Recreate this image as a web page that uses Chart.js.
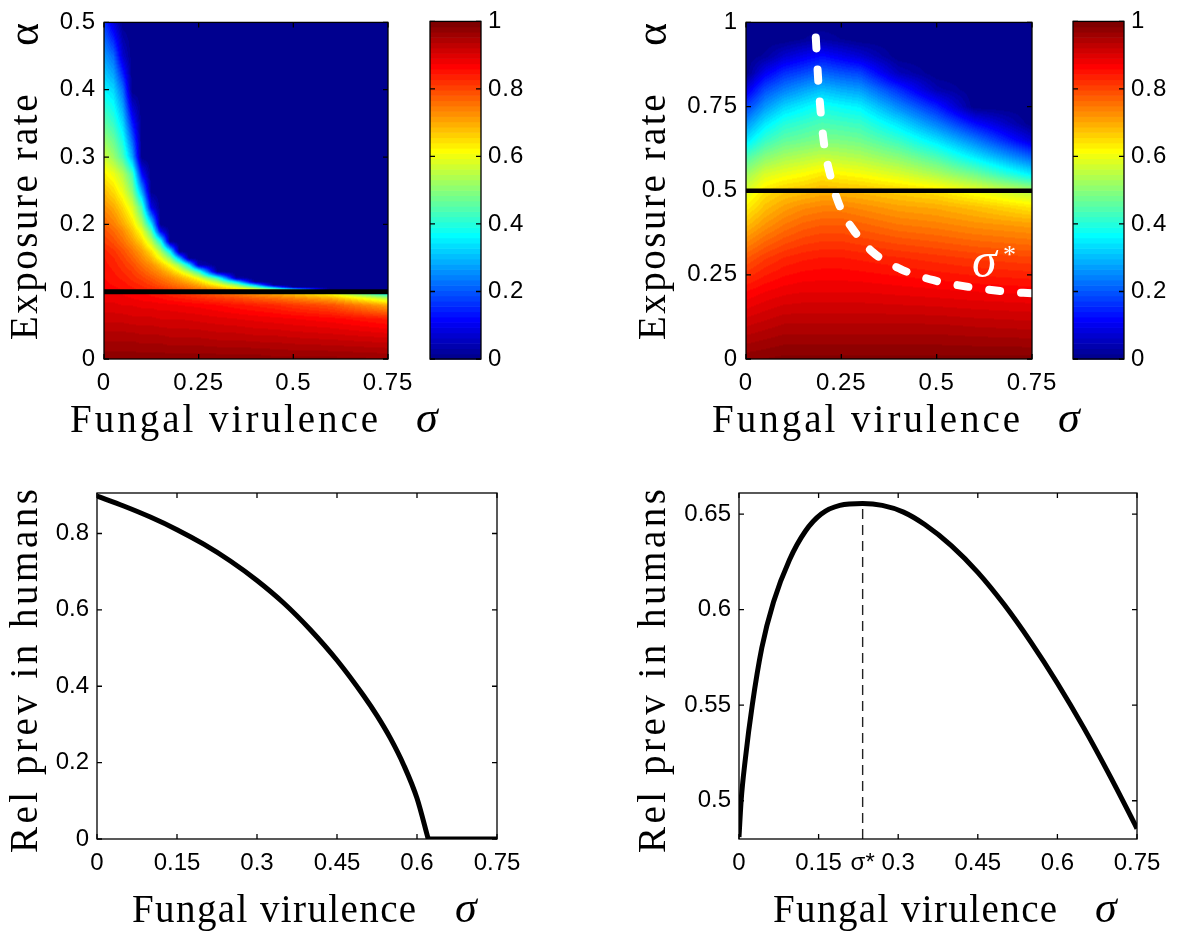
<!DOCTYPE html>
<html>
<head>
<meta charset="utf-8">
<script src="https://cdn.jsdelivr.net/npm/chart.js@4.4.1/dist/chart.umd.min.js"></script>
<style>
  html, body { margin: 0; background: #fff; }
  #fig { position: relative; width: 1200px; height: 934px; }
  #fig canvas { position: absolute; left: 0; top: 0; }
</style>
</head>
<body>
<div id="fig">
  <canvas id="hmLeft" width="1200" height="934"></canvas>
  <canvas id="cbLeft" width="1200" height="934"></canvas>
  <canvas id="hmRight" width="1200" height="934"></canvas>
  <canvas id="cbRight" width="1200" height="934"></canvas>
  <canvas id="prevLeft" width="1200" height="934"></canvas>
  <canvas id="prevRight" width="1200" height="934"></canvas>
</div>
<script>
// ---------- data ----------

// top-left heatmap: value on a (sigma, alpha) grid, rows go up in alpha
const leftSigma = [0, 0.025, 0.05, 0.075, 0.1, 0.125, 0.15, 0.175, 0.2, 0.225, 0.25, 0.3, 0.35, 0.4, 0.45, 0.5, 0.6, 0.75];
const leftAlpha = [0, 0.03, 0.06, 0.08, 0.09, 0.1, 0.103, 0.107, 0.11, 0.115, 0.12, 0.125, 0.13, 0.14, 0.15, 0.16, 0.175, 0.19, 0.2, 0.225, 0.25, 0.275, 0.3, 0.35, 0.4, 0.45, 0.5];
const leftGrid = [
  [.98, .98, .98, .98, .98, .98, .98, .98, .98, .98, .98, .98, .98, .98, .975, .975, .975, .97],
  [.95, .95, .95, .95, .945, .945, .945, .94, .94, .94, .94, .935, .935, .93, .93, .925, .92, .91],
  [.915, .915, .915, .91, .91, .91, .905, .905, .905, .903, .9, .895, .89, .885, .88, .875, .865, .84],
  [.895, .895, .89, .89, .885, .885, .88, .88, .875, .872, .87, .86, .85, .84, .83, .815, .79, .7],
  [.885, .885, .88, .875, .87, .865, .86, .85, .845, .838, .83, .815, .8, .78, .765, .745, .7, .55],
  [.875, .875, .87, .865, .86, .85, .84, .83, .815, .803, .79, .76, .73, .7, .67, .64, .57, .3],
  [.87, .865, .859, .849, .841, .833, .82, .808, .793, .778, .763, .731, .687, .618, .531, .4, 0, 0],
  [.868, .861, .854, .843, .832, .818, .804, .785, .766, .748, .727, .668, .573, .451, .226, 0, 0, 0],
  [.866, .858, .85, .839, .825, .81, .79, .77, .752, .731, .701, .62, .511, .286, 0, 0, 0, 0],
  [.863, .854, .846, .83, .817, .796, .773, .751, .725, .693, .66, .535, .319, 0, 0, 0, 0, 0],
  [.86, .851, .839, .823, .804, .783, .757, .734, .698, .662, .602, .43, .043, 0, 0, 0, 0, 0],
  [.858, .848, .833, .815, .794, .767, .74, .704, .665, .6, .515, .206, 0, 0, 0, 0, 0, 0],
  [.855, .844, .828, .811, .782, .752, .722, .68, .616, .534, .419, 0, 0, 0, 0, 0, 0, 0],
  [.85, .837, .817, .792, .758, .725, .676, .604, .51, .34, .043, 0, 0, 0, 0, 0, 0, 0],
  [.845, .83, .804, .773, .733, .684, .605, .499, .279, 0, 0, 0, 0, 0, 0, 0, 0, 0],
  [.835, .818, .789, .752, .71, .647, .534, .359, 0, 0, 0, 0, 0, 0, 0, 0, 0, 0],
  [.81, .79, .757, .713, .656, .553, .381, 0, 0, 0, 0, 0, 0, 0, 0, 0, 0, 0],
  [.79, .766, .731, .676, .6, .45, .103, 0, 0, 0, 0, 0, 0, 0, 0, 0, 0, 0],
  [.77, .745, .702, .647, .547, .354, 0, 0, 0, 0, 0, 0, 0, 0, 0, 0, 0, 0],
  [.73, .702, .653, .584, .438, .095, 0, 0, 0, 0, 0, 0, 0, 0, 0, 0, 0, 0],
  [.68, .649, .594, .498, .272, 0, 0, 0, 0, 0, 0, 0, 0, 0, 0, 0, 0, 0],
  [.63, .6, .542, .435, .12, 0, 0, 0, 0, 0, 0, 0, 0, 0, 0, 0, 0, 0],
  [.57, .52, .44, .28, 0, 0, 0, 0, 0, 0, 0, 0, 0, 0, 0, 0, 0, 0],
  [.46, .42, .33, .14, 0, 0, 0, 0, 0, 0, 0, 0, 0, 0, 0, 0, 0, 0],
  [.36, .33, .22, 0, 0, 0, 0, 0, 0, 0, 0, 0, 0, 0, 0, 0, 0, 0],
  [.27, .22, .07, 0, 0, 0, 0, 0, 0, 0, 0, 0, 0, 0, 0, 0, 0, 0],
  [.17, .08, 0, 0, 0, 0, 0, 0, 0, 0, 0, 0, 0, 0, 0, 0, 0, 0]
];
const leftCutoff = 0.1;

// top-right heatmap
const rightSigma = [0, 0.05, 0.1, 0.15, 0.2, 0.25, 0.3, 0.4, 0.5, 0.6, 0.75];
const rightAlpha = [0, 0.1, 0.2, 0.3, 0.4, 0.45, 0.5, 0.55, 0.6, 0.65, 0.7, 0.75, 0.8, 0.85, 0.9, 0.95, 1];
const rightGrid = [
  [.98, .985, .99, .99, .99, .99, .99, .99, .99, .99, .99],
  [.92, .93, .94, .94, .94, .94, .94, .94, .94, .935, .93],
  [.86, .875, .885, .89, .89, .89, .89, .885, .88, .875, .87],
  [.78, .81, .83, .84, .845, .845, .84, .83, .82, .81, .8],
  [.68, .72, .75, .77, .78, .78, .77, .75, .74, .725, .71],
  [.63, .68, .71, .73, .74, .74, .73, .71, .7, .68, .64],
  [.58, .64, .665, .675, .69, .685, .68, .66, .64, .6, .54],
  [.52, .58, .6, .615, .635, .62, .61, .58, .535, .475, .35],
  [.44, .5, .53, .545, .56, .55, .54, .5, .44, .35, .21],
  [.34, .42, .46, .475, .49, .485, .475, .42, .34, .24, .075],
  [.26, .345, .4, .42, .44, .43, .42, .34, .24, .125, 0],
  [.175, .265, .325, .355, .385, .37, .355, .25, .145, 0, 0],
  [.09, .19, .24, .275, .305, .285, .27, .16, .04, 0, 0],
  [0, .105, .16, .185, .215, .195, .18, .05, 0, 0, 0],
  [0, .02, .07, .1, .125, .1, .075, 0, 0, 0, 0],
  [0, 0, 0, .015, .03, .015, 0, 0, 0, 0, 0],
  [0, 0, 0, 0, 0, 0, 0, 0, 0, 0, 0]
];
const rightCutoff = 0.5;
// optimal virulence sigma* against alpha (white dashed curve)
const optSigma = [0.183, 0.19, 0.203, 0.225, 0.247, 0.282, 0.334, 0.404, 0.492, 0.597, 0.684, 0.75];
const optAlpha = [0.955, 0.818, 0.654, 0.528, 0.451, 0.383, 0.316, 0.268, 0.234, 0.212, 0.2, 0.195];

// bottom-left: relative prevalence in humans (falls to zero, then stays there)
const lowSigma = [0, 0.05, 0.1, 0.15, 0.2, 0.25, 0.3, 0.35, 0.4, 0.45, 0.5, 0.525, 0.55, 0.575, 0.6, 0.621];
const lowPrev = [0.898, 0.872, 0.843, 0.81, 0.772, 0.728, 0.677, 0.618, 0.548, 0.468, 0.375, 0.323, 0.264, 0.194, 0.1065, 0];
const lowZeroSigma = [0.621, 0.75];
const lowZeroPrev = [0, 0];

// bottom-right
const highSigma = [0, 0.004, 0.012, 0.025, 0.043, 0.065, 0.095, 0.125, 0.155, 0.19, 0.233, 0.27, 0.31, 0.35, 0.4, 0.45, 0.5, 0.55, 0.6, 0.65, 0.7, 0.75];
const highPrev = [0.481, 0.5, 0.522, 0.55, 0.58, 0.604, 0.626, 0.641, 0.65, 0.6545, 0.6555, 0.6545, 0.651, 0.6445, 0.6335, 0.6195, 0.6025, 0.583, 0.5615, 0.538, 0.5125, 0.4855];
const sigmaStar = 0.233;
const peakPrev = 0.6555;

// tick values
const hmXTicks = [0, 0.25, 0.5, 0.75];
const leftYTicks = [0, 0.1, 0.2, 0.3, 0.4, 0.5];
const rightYTicks = [0, 0.25, 0.5, 0.75, 1];
const cbTicks = [0, 0.2, 0.4, 0.6, 0.8, 1];
const lineXTicks = [0, 0.15, 0.3, 0.45, 0.6, 0.75];
const lowYTicks = [0, 0.2, 0.4, 0.6, 0.8];
const highYTicks = [0.5, 0.55, 0.6, 0.65];

// ---------- helpers ----------
const W = 1200, H = 934;
const tickFont = { family: '"Liberation Sans", Arial, sans-serif', size: 24 };
const titleFont = '39px "Liberation Serif", "Times New Roman", serif';
const greekFont = 'italic 44px "Liberation Serif", "Times New Roman", serif';
const fmt = v => String(Math.round(v * 1000) / 1000);

// MATLAB jet, 64 levels
function jetIndex(i) {
  const c = t => Math.max(0, Math.min(1, t));
  return [
    c(Math.min((i - 24) / 16, (72 - i) / 16)) * 255,
    c(Math.min((i - 8) / 16, (56 - i) / 16)) * 255,
    c(Math.min((i + 8) / 16, (40 - i) / 16)) * 255
  ];
}
function jet(v) {
  return jetIndex(Math.max(1, Math.min(64, Math.floor(v * 64) + 1)));
}
function locate(arr, v) {
  let i = 0;
  while (i < arr.length - 2 && v > arr[i + 1]) i++;
  const f = Math.max(0, Math.min(1, (v - arr[i]) / (arr[i + 1] - arr[i])));
  return [i, f];
}

function heatmapPlugin(sig, alp, grid) {
  return {
    id: 'heatmap',
    beforeDatasetsDraw(chart) {
      const { ctx, chartArea: a, scales: { x, y } } = chart;
      const w = Math.round(a.right - a.left), h = Math.round(a.bottom - a.top);
      const off = document.createElement('canvas');
      off.width = w; off.height = h;
      const octx = off.getContext('2d');
      const img = octx.createImageData(w, h);
      for (let py = 0; py < h; py++) {
        const [j, fy] = locate(alp, y.getValueForPixel(a.top + py + 0.5));
        for (let px = 0; px < w; px++) {
          const [i, fx] = locate(sig, x.getValueForPixel(a.left + px + 0.5));
          const lo = grid[j][i] * (1 - fx) + grid[j][i + 1] * fx;
          const hi = grid[j + 1][i] * (1 - fx) + grid[j + 1][i + 1] * fx;
          const col = jet(lo * (1 - fy) + hi * fy);
          const k = (py * w + px) * 4;
          img.data[k] = col[0]; img.data[k + 1] = col[1]; img.data[k + 2] = col[2]; img.data[k + 3] = 255;
        }
      }
      octx.putImageData(img, 0, 0);
      ctx.drawImage(off, a.left, a.top);
    }
  };
}

function colorbarPlugin() {
  return {
    id: 'colorbar',
    beforeDatasetsDraw(chart) {
      const { ctx, chartArea: a, scales: { y } } = chart;
      for (let i = 1; i <= 64; i++) {
        const y0 = y.getPixelForValue((i - 1) / 64), y1 = y.getPixelForValue(i / 64);
        const c = jetIndex(i);
        ctx.fillStyle = `rgb(${c[0]},${c[1]},${c[2]})`;
        ctx.fillRect(a.left, y1, a.right - a.left, y0 - y1 + 0.6);
      }
    }
  };
}

// box round the axes, with ticks pointing inwards on all four sides
function framePlugin(xTicks, yTicks) {
  return {
    id: 'frame',
    afterDatasetsDraw(chart) {
      const { ctx, chartArea: a, scales: { x, y } } = chart;
      const len = 5;
      ctx.save();
      ctx.strokeStyle = '#000';
      ctx.lineWidth = 1.3;
      ctx.beginPath();
      xTicks.forEach(v => {
        const px = x.getPixelForValue(v);
        ctx.moveTo(px, a.bottom); ctx.lineTo(px, a.bottom - len);
        ctx.moveTo(px, a.top); ctx.lineTo(px, a.top + len);
      });
      yTicks.forEach(v => {
        const py = y.getPixelForValue(v);
        ctx.moveTo(a.left, py); ctx.lineTo(a.left + len, py);
        ctx.moveTo(a.right, py); ctx.lineTo(a.right - len, py);
      });
      ctx.stroke();
      ctx.strokeRect(a.left, a.top, a.right - a.left, a.bottom - a.top);
      ctx.restore();
    }
  };
}

// the top row of the figure is a little wider, so its text is spaced out
function spacingPlugin(px) {
  return { id: 'spacing', beforeDraw(chart) { chart.ctx.letterSpacing = px; } };
}

function textPlugin(items) {
  return {
    id: 'texts',
    afterDraw(chart) {
      const ctx = chart.ctx;
      items.forEach(t => {
        ctx.save();
        ctx.font = t.font || titleFont;
        ctx.fillStyle = t.color || '#000';
        ctx.letterSpacing = t.spacing || '0px';
        ctx.textAlign = 'left';
        ctx.textBaseline = 'alphabetic';
        ctx.translate(t.x, t.y);
        if (t.rotate) ctx.rotate(-Math.PI / 2);
        ctx.fillText(t.text, 0, 0);
        ctx.restore();
      });
    }
  };
}

function panelOptions(area, xr, yr) {
  return {
    responsive: false,
    animation: false,
    devicePixelRatio: 1,
    layout: { padding: { left: 0, top: area.top, right: W - area.right, bottom: 0 } },
    plugins: { legend: { display: false }, tooltip: { enabled: false } },
    scales: {
      x: {
        type: 'linear', min: xr.min, max: xr.max,
        grid: { display: false, drawTicks: false }, border: { display: false },
        afterBuildTicks: s => { s.ticks = xr.ticks.map(v => ({ value: v })); },
        afterFit: s => { s.height = H - area.bottom; },
        ticks: { autoSkip: false, maxRotation: 0, padding: 10, color: '#000', font: tickFont, callback: xr.fmt || fmt }
      },
      y: {
        type: 'linear', min: yr.min, max: yr.max,
        grid: { display: false, drawTicks: false }, border: { display: false },
        afterBuildTicks: s => { s.ticks = yr.ticks.map(v => ({ value: v })); },
        afterFit: s => { s.width = area.left; },
        ticks: { autoSkip: false, padding: 8, color: '#000', font: tickFont, callback: fmt }
      }
    }
  };
}

function colorbar(id, area) {
  new Chart(document.getElementById(id), {
    type: 'scatter',
    data: { datasets: [] },
    options: {
      responsive: false, animation: false, devicePixelRatio: 1,
      layout: { padding: { left: area.left, top: area.top, right: 0, bottom: H - area.bottom } },
      plugins: { legend: { display: false }, tooltip: { enabled: false } },
      scales: {
        x: { display: false, min: 0, max: 1 },
        y: {
          position: 'right', min: 0, max: 1,
          grid: { display: false, drawTicks: false }, border: { display: false },
          afterBuildTicks: s => { s.ticks = cbTicks.map(v => ({ value: v })); },
          afterFit: s => { s.width = W - area.right; },
          ticks: { padding: 7, color: '#000', font: tickFont, callback: fmt }
        }
      }
    },
    plugins: [spacingPlugin('1px'), colorbarPlugin(), framePlugin([], cbTicks)]
  });
}

const toPoints = (xs, ys) => xs.map((x, i) => ({ x, y: ys[i] }));
const thickLine = (data, color, width) => ({
  data, showLine: true, pointRadius: 0, borderColor: color, borderWidth: width,
  cubicInterpolationMode: 'monotone'
});

// ---------- top-left heatmap ----------
const tlArea = { left: 104, top: 14, right: 388, bottom: 359 };
new Chart(document.getElementById('hmLeft'), {
  type: 'scatter',
  data: { datasets: [thickLine([{ x: 0, y: leftCutoff }, { x: 0.75, y: leftCutoff }], '#000', 5)] },
  options: panelOptions(tlArea, { min: 0, max: 0.75, ticks: hmXTicks }, { min: 0, max: 0.5, ticks: leftYTicks }),
  plugins: [
    spacingPlugin('1px'),
    heatmapPlugin(leftSigma, leftAlpha, leftGrid),
    framePlugin(hmXTicks, leftYTicks),
    textPlugin([
      { text: 'Fungal virulence', x: 70, y: 432, spacing: '3px' },
      { text: 'σ', x: 416, y: 432, font: greekFont },
      { text: 'Exposure rate', x: 37, y: 340, rotate: true, spacing: '2.5px' },
      { text: 'α', x: 38, y: 46, rotate: true, font: '44px "Liberation Serif", serif' }
    ])
  ]
});
colorbar('cbLeft', { left: 430, top: 14, right: 481, bottom: 359 });

// ---------- top-right heatmap ----------
const trArea = { left: 746, top: 14, right: 1032, bottom: 359 };
const optDash = thickLine(toPoints(optSigma, optAlpha), '#fff', 8);
optDash.borderDash = [11, 21];
optDash.borderCapStyle = 'round';
new Chart(document.getElementById('hmRight'), {
  type: 'scatter',
  data: { datasets: [thickLine([{ x: 0, y: rightCutoff }, { x: 0.75, y: rightCutoff }], '#000', 4.5), optDash] },
  options: panelOptions(trArea, { min: 0, max: 0.75, ticks: hmXTicks }, { min: 0, max: 1, ticks: rightYTicks }),
  plugins: [
    spacingPlugin('1px'),
    heatmapPlugin(rightSigma, rightAlpha, rightGrid),
    framePlugin(hmXTicks, rightYTicks),
    textPlugin([
      { text: 'Fungal virulence', x: 712, y: 432, spacing: '3px' },
      { text: 'σ', x: 1058, y: 432, font: greekFont },
      { text: 'Exposure rate', x: 665, y: 340, rotate: true, spacing: '2.5px' },
      { text: 'α', x: 666, y: 46, rotate: true, font: '44px "Liberation Serif", serif' },
      { text: 'σ', x: 972, y: 277, font: 'italic 50px "Liberation Serif", serif', color: '#fff' },
      { text: '*', x: 1003, y: 263, font: '26px "Liberation Serif", serif', color: '#fff' }
    ])
  ]
});
colorbar('cbRight', { left: 1073, top: 14, right: 1124, bottom: 359 });

// ---------- bottom-left line ----------
const blArea = { left: 97, top: 493, right: 497, bottom: 839 };
const lowFlat = thickLine(toPoints(lowZeroSigma, lowZeroPrev), '#000', 5);
lowFlat.cubicInterpolationMode = 'default';
new Chart(document.getElementById('prevLeft'), {
  type: 'scatter',
  data: { datasets: [thickLine(toPoints(lowSigma, lowPrev), '#000', 5), lowFlat] },
  options: panelOptions(blArea, { min: 0, max: 0.75, ticks: lineXTicks }, { min: 0, max: 0.906, ticks: lowYTicks }),
  plugins: [
    framePlugin(lineXTicks, lowYTicks),
    textPlugin([
      { text: 'Fungal virulence', x: 132, y: 922, spacing: '1.4px' },
      { text: 'σ', x: 455, y: 922, font: greekFont },
      { text: 'Rel prev in humans', x: 37, y: 853, rotate: true, spacing: '3.5px' }
    ])
  ]
});

// ---------- bottom-right line ----------
const brArea = { left: 739, top: 493, right: 1137, bottom: 839 };
const starLine = {
  data: [{ x: sigmaStar, y: 0.48 }, { x: sigmaStar, y: peakPrev }],
  showLine: true, pointRadius: 0, borderColor: '#222', borderWidth: 1.4, borderDash: [10, 6]
};
new Chart(document.getElementById('prevRight'), {
  type: 'scatter',
  data: { datasets: [starLine, thickLine(toPoints(highSigma, highPrev), '#000', 5)] },
  options: panelOptions(brArea,
    { min: 0, max: 0.75, ticks: [0, 0.15, sigmaStar, 0.3, 0.45, 0.6, 0.75],
      fmt: v => (Math.abs(v - sigmaStar) < 1e-9 ? 'σ*' : fmt(v)) },
    { min: 0.48, max: 0.661, ticks: highYTicks }),
  plugins: [
    framePlugin(lineXTicks, highYTicks),
    textPlugin([
      { text: 'Fungal virulence', x: 773, y: 922, spacing: '1.4px' },
      { text: 'σ', x: 1095, y: 922, font: greekFont },
      { text: 'Rel prev in humans', x: 665, y: 853, rotate: true, spacing: '3.5px' }
    ])
  ]
});
</script>
</body>
</html>
